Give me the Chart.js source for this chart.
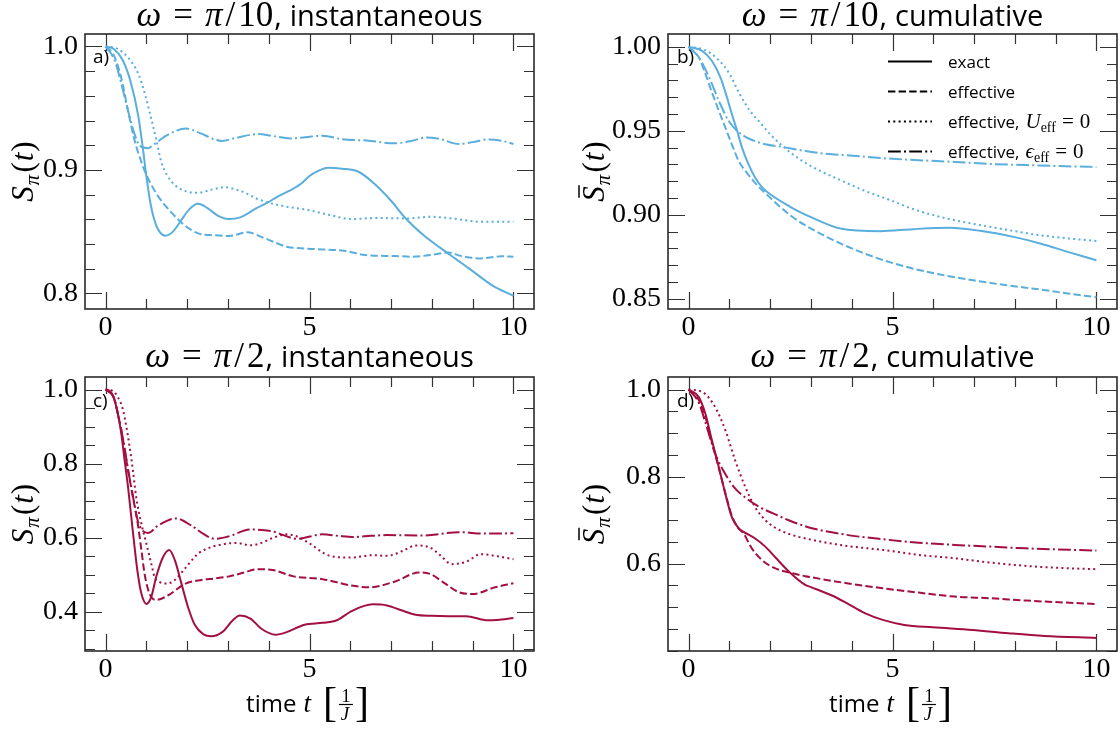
<!DOCTYPE html>
<html><head><meta charset="utf-8">
<script src="https://cdn.jsdelivr.net/npm/chart.js@4/dist/chart.umd.min.js"></script>
<style>
html,body{margin:0;padding:0;background:#fff;}
#wrap{position:relative;width:1120px;height:732px;overflow:hidden;}
canvas{position:absolute;}
</style></head><body>
<div id="wrap">
<canvas id="ca" width="560" height="345" style="left:0;top:0"></canvas>
<canvas id="cb" width="560" height="345" style="left:560px;top:0"></canvas>
<canvas id="cc" width="560" height="407" style="left:0;top:325px"></canvas>
<canvas id="cd" width="560" height="407" style="left:560px;top:325px"></canvas>
</div>
<script>
// ---------- tick values / labels ----------
const xTicks = [0, 5, 10];
const xTickLabels = ['0', '5', '10'];
const aYTicks = [0.8, 0.9, 1.0];
const aYTickLabels = ['0.8', '0.9', '1.0'];
const bYTicks = [0.85, 0.90, 0.95, 1.00];
const bYTickLabels = ['0.85', '0.90', '0.95', '1.00'];
const cYTicks = [0.4, 0.6, 0.8, 1.0];
const cYTickLabels = ['0.4', '0.6', '0.8', '1.0'];
const dYTicks = [0.6, 0.8, 1.0];
const dYTickLabels = ['0.6', '0.8', '1.0'];

// ---------- legend labels ----------
const seriesNames = ['exact', 'effective', 'effective, U_eff = 0', 'effective, ϵ_eff = 0'];

// ---------- panel a: omega = pi/10, instantaneous ----------
const aT_exact = [0,0.2,0.4,0.6,0.8,0.9,1.0,1.1,1.2,1.3,1.47,1.65,1.85,2.05,2.27,2.5,2.75,3.03,3.3,3.7,4.0,4.2,4.5,4.8,5.0,5.2,5.45,5.8,6.2,6.55,7.0,7.35,7.8,8.2,8.6,9.0,9.5,10];
const aY_exact = [1.0,0.998,0.99,0.973,0.944,0.921,0.895,0.873,0.859,0.851,0.8467,0.850,0.859,0.868,0.8725,0.869,0.863,0.8602,0.8615,0.869,0.874,0.878,0.883,0.889,0.895,0.899,0.9018,0.901,0.8985,0.890,0.875,0.861,0.847,0.837,0.8275,0.818,0.806,0.798];
const aT_eff = [0,0.2,0.38,0.55,0.71,0.84,0.96,1.12,1.28,1.6,1.94,2.27,2.68,3.03,3.47,3.91,4.44,4.9,5.32,5.85,6.37,7.08,7.52,7.96,8.4,8.75,9.2,9.72,10];
const aY_eff = [1.0,0.993,0.975,0.948,0.924,0.910,0.899,0.888,0.879,0.866,0.855,0.8486,0.847,0.8464,0.8494,0.8445,0.8378,0.8362,0.8356,0.8345,0.831,0.8302,0.8297,0.831,0.833,0.830,0.8283,0.830,0.8297];
const aT_u0 = [0,0.3,0.55,0.8,0.96,1.1,1.24,1.36,1.52,1.69,1.94,2.27,2.6,2.92,3.2,3.45,3.73,4.1,4.44,4.97,5.5,6.02,6.64,7.43,7.96,8.49,9.2,10];
const aY_u0 = [1.0,0.998,0.991,0.978,0.962,0.944,0.925,0.907,0.895,0.888,0.883,0.8815,0.884,0.886,0.884,0.881,0.8764,0.8725,0.8702,0.8675,0.8634,0.8602,0.861,0.8607,0.862,0.8607,0.858,0.858];
const aT_e0 = [0,0.22,0.385,0.55,0.71,0.84,1.04,1.2,1.5,1.97,2.3,2.85,3.2,3.73,4.1,4.53,4.9,5.32,5.8,6.4,7.08,7.5,7.87,8.2,8.66,9.0,9.37,9.7,10];
const aY_e0 = [1.0,0.989,0.970,0.948,0.929,0.9195,0.9176,0.921,0.928,0.9335,0.930,0.9235,0.926,0.929,0.9275,0.9255,0.9265,0.9277,0.9248,0.9238,0.9215,0.9235,0.9263,0.925,0.921,0.9225,0.9247,0.9237,0.921];

// ---------- panel b: omega = pi/10, cumulative ----------
const bT_exact = [0,0.33,0.57,0.78,0.94,1.06,1.19,1.31,1.47,1.63,1.8,1.92,2.49,3.07,3.72,4.7,5.5,6.41,7.15,7.97,8.62,9.3,10];
const bY_exact = [1.0,0.9976,0.9917,0.9818,0.970,0.960,0.950,0.940,0.930,0.9222,0.9165,0.9137,0.9048,0.8979,0.8919,0.8903,0.8915,0.8923,0.8905,0.8869,0.883,0.878,0.873];
const bT_eff = [0,0.25,0.41,0.57,0.74,0.9,1.06,1.23,1.43,1.63,1.9,2.49,3.07,3.72,4.54,5.35,6.17,6.98,7.8,8.62,9.3,10];
const bY_eff = [1.0,0.9937,0.984,0.973,0.962,0.952,0.942,0.932,0.925,0.919,0.9125,0.8998,0.8909,0.883,0.875,0.869,0.8645,0.8611,0.8581,0.8556,0.8532,0.851];
const bT_u0 = [0,0.4,0.7,1.0,1.25,1.5,1.75,2.0,2.3,2.74,3.2,3.72,4.3,4.94,5.5,6.17,6.8,7.39,8.0,8.62,9.3,10];
const bY_u0 = [1.0,0.998,0.993,0.984,0.972,0.962,0.955,0.948,0.941,0.9328,0.9265,0.9207,0.9145,0.9088,0.9035,0.8988,0.8955,0.8929,0.8903,0.8879,0.886,0.8845];
const bT_e0 = [0,0.25,0.5,0.74,0.98,1.19,1.43,1.88,2.29,2.86,3.5,3.88,4.9,5.64,6.52,7.4,8.28,9.1,10];
const bY_e0 = [1.0,0.9937,0.982,0.968,0.956,0.950,0.946,0.942,0.9405,0.938,0.936,0.9355,0.9335,0.9325,0.9315,0.9303,0.9296,0.929,0.9285];

// ---------- panel c: omega = pi/2, instantaneous ----------
const cT_exact = [0,0.1,0.22,0.30,0.385,0.467,0.55,0.63,0.71,0.79,0.877,1.0,1.12,1.24,1.41,1.56,1.70,1.86,2.02,2.19,2.4,2.59,2.86,3.12,3.29,3.56,3.82,4.17,4.44,4.88,5.32,5.67,6.02,6.55,6.9,7.25,7.6,8.0,8.4,8.84,9.37,9.6,10];
const cY_exact = [1.0,0.997,0.971,0.935,0.881,0.809,0.737,0.656,0.575,0.503,0.449,0.421,0.440,0.494,0.548,0.567,0.539,0.476,0.413,0.364,0.339,0.334,0.345,0.377,0.390,0.381,0.354,0.338,0.345,0.365,0.370,0.377,0.401,0.420,0.417,0.404,0.392,0.389,0.388,0.388,0.377,0.378,0.383];
const cT_eff = [0,0.2,0.3,0.43,0.55,0.67,0.79,0.88,0.96,1.08,1.24,1.53,1.94,2.35,2.68,3.03,3.4,3.73,4.09,4.61,5.32,6.02,6.47,7.08,7.69,7.96,8.3,8.66,9.0,9.55,10];
const cY_eff = [1.0,0.979,0.935,0.863,0.782,0.71,0.637,0.565,0.50,0.448,0.432,0.444,0.475,0.486,0.490,0.4955,0.506,0.515,0.513,0.4955,0.488,0.471,0.466,0.481,0.506,0.502,0.478,0.453,0.448,0.466,0.477];
const cT_u0 = [0,0.15,0.3,0.43,0.51,0.59,0.67,0.75,0.877,1.0,1.12,1.2,1.33,1.49,1.69,1.94,2.27,2.6,2.92,3.2,3.56,3.8,4.09,4.44,4.7,4.97,5.5,6.02,6.55,6.9,7.3,7.6,7.96,8.2,8.49,8.84,9.2,9.55,10];
const cY_u0 = [1.0,0.998,0.980,0.944,0.899,0.845,0.782,0.710,0.638,0.584,0.53,0.494,0.48,0.476,0.485,0.516,0.557,0.575,0.583,0.586,0.5795,0.585,0.599,0.609,0.603,0.5866,0.551,0.5464,0.5527,0.551,0.565,0.579,0.5732,0.553,0.5286,0.535,0.5554,0.551,0.542];
const cT_e0 = [0,0.2,0.3,0.43,0.55,0.67,0.79,0.9,1.04,1.29,1.72,2.1,2.4,2.68,3.0,3.56,4.09,4.7,5.32,5.7,6.1,6.5,6.9,7.78,8.66,9.3,10];
const cY_e0 = [1.0,0.979,0.935,0.865,0.785,0.712,0.645,0.62,0.6127,0.633,0.652,0.633,0.61,0.597,0.603,0.6223,0.617,0.597,0.609,0.605,0.602,0.605,0.607,0.606,0.615,0.611,0.612];

// ---------- panel d: omega = pi/2, cumulative ----------
const dT_exact = [0,0.25,0.41,0.57,0.74,0.9,1.06,1.23,1.35,1.64,1.88,2.13,2.49,2.86,3.0,3.53,3.88,4.32,4.76,5.29,5.99,6.96,7.84,8.72,10];
const dY_exact = [1.0,0.983,0.945,0.884,0.822,0.761,0.707,0.681,0.673,0.657,0.639,0.614,0.579,0.551,0.546,0.526,0.509,0.486,0.4705,0.459,0.4536,0.4475,0.44,0.4337,0.429];
const dT_eff = [0,0.25,0.41,0.57,0.74,0.9,1.06,1.2,1.35,1.55,1.8,2.13,2.49,2.86,3.0,3.88,4.76,5.64,6.52,7.4,8.28,10];
const dY_eff = [1.0,0.976,0.937,0.880,0.820,0.762,0.71,0.684,0.669,0.635,0.608,0.589,0.579,0.571,0.5686,0.5548,0.5433,0.5333,0.5241,0.5203,0.515,0.507];
const dT_u0 = [0,0.33,0.65,0.9,1.14,1.39,1.63,1.88,2.13,2.53,3.0,3.88,4.76,5.64,6.52,7.4,8.28,9.1,10];
const dY_u0 = [1.0,0.995,0.960,0.907,0.838,0.776,0.730,0.700,0.682,0.666,0.655,0.6406,0.6314,0.62,0.6123,0.6023,0.5946,0.590,0.587];
const dT_e0 = [0,0.25,0.41,0.65,0.9,1.14,1.39,1.72,2.13,2.5,3.0,3.88,4.76,5.64,6.52,7.4,8.28,10];
const dY_e0 = [1.0,0.97,0.925,0.853,0.806,0.773,0.752,0.731,0.713,0.698,0.682,0.666,0.656,0.648,0.643,0.639,0.635,0.630];

// ---------- styles ----------
const BLUE = '#5aaedd';
const RED = '#a3103f';
const DASHES = [[], [7.4, 3.2], [2, 3.3], [12.8, 3.2, 2, 3.2]];
const SERIF = '"Liberation Serif","DejaVu Serif",serif';
const SANS = '"Open Sans","DejaVu Sans",sans-serif';
const INK = '#000';
const FRAME = '#2a2a2a';

function segsWidth(ctx, segs) {
  let w = 0;
  for (const s of segs) { ctx.font = s.f; w += (s.gap || 0) + ctx.measureText(s.t).width; }
  return w;
}
function drawSegs(ctx, segs, x0, y0) {
  let x = x0; const pos = [];
  for (const s of segs) {
    x += (s.gap || 0);
    ctx.font = s.f;
    const w = ctx.measureText(s.t).width;
    ctx.fillText(s.t, x, y0 + (s.dy || 0));
    pos.push([x, w]);
    x += w;
  }
  return pos;
}

function titleSegs(den, kind) {
  const mi = `italic 35px ${SERIF}`, mr = `35px ${SERIF}`, sf = `29px ${SANS}`;
  return [
    {t: 'ω', f: mi},
    {t: '=', f: mr, gap: 12},
    {t: 'π', f: mi, gap: 12},
    {t: '/', f: mr, gap: 3},
    {t: den, f: mr, gap: 3},
    {t: ',', f: sf, gap: 1},
    {t: kind, f: sf, gap: 8}
  ];
}

function makeDeco(cfg) {
  return {
    id: 'deco_' + cfg.id,
    beforeDatasetsDraw(chart) {
      const ctx = chart.ctx, a = chart.chartArea;
      const xs = chart.scales.x, ys = chart.scales.y;
      ctx.save();
      ctx.strokeStyle = '#333'; ctx.lineWidth = 1.2;
      for (let k = 0; k <= 10; k++) {
        const major = xTicks.includes(k);
        const L = major ? 17 : 10;
        const p = Math.round(xs.getPixelForValue(k)) + 0.5;
        ctx.beginPath();
        ctx.moveTo(p, a.bottom); ctx.lineTo(p, a.bottom - L);
        ctx.moveTo(p, a.top); ctx.lineTo(p, a.top + L);
        ctx.stroke();
      }
      const st = cfg.yMinorStep;
      const k0 = Math.ceil(cfg.yMin / st - 1e-9), k1 = Math.floor(cfg.yMax / st + 1e-9);
      for (let k = k0; k <= k1; k++) {
        const v = k * st;
        const major = cfg.yTicks.some(m => Math.abs(m - v) < st * 0.01);
        const L = major ? 17 : 10;
        const p = Math.round(ys.getPixelForValue(v)) + 0.5;
        ctx.beginPath();
        ctx.moveTo(a.left, p); ctx.lineTo(a.left + L, p);
        ctx.moveTo(a.right, p); ctx.lineTo(a.right - L, p);
        ctx.stroke();
      }
      ctx.restore();
    },
    afterDatasetsDraw(chart) {
      const ctx = chart.ctx, a = chart.chartArea;
      ctx.save();
      ctx.strokeStyle = FRAME; ctx.lineWidth = 1.6;
      ctx.strokeRect(a.left, a.top, a.right - a.left, a.bottom - a.top);
      ctx.fillStyle = INK;
      ctx.font = `19px ${SANS}`; ctx.textAlign = 'left'; ctx.textBaseline = 'alphabetic';
      ctx.fillText(cfg.letter, cfg.letterX, cfg.letterY);
      if (cfg.legend) {
        const lx0 = 328, lx1 = 372, tx = 388;
        for (let i = 0; i < seriesNames.length; i++) {
          const y = 61.5 + 30 * i;
          ctx.save();
          ctx.strokeStyle = '#000'; ctx.lineWidth = 2; ctx.setLineDash(DASHES[i]);
          ctx.beginPath(); ctx.moveTo(lx0, y); ctx.lineTo(lx1, y); ctx.stroke();
          ctx.restore();
          const name = seriesNames[i];
          const parts = name.split(', ');
          if (parts.length === 1) {
            ctx.font = `17px ${SANS}`;
            ctx.fillText(name, tx, y + 6);
          } else {
            const m = parts[1].match(/^(.)_(\w+) = (\d)$/);
            drawSegs(ctx, [
              {t: parts[0] + ',', f: `17px ${SANS}`},
              {t: m[1], f: `italic 21px ${SERIF}`, gap: 6},
              {t: m[2], f: `14px ${SERIF}`, gap: 0, dy: 4},
              {t: '=', f: `21px ${SERIF}`, gap: 6},
              {t: m[3], f: `21px ${SERIF}`, gap: 6}
            ], tx, y + 6);
          }
        }
      }
      ctx.restore();
    },
    afterDraw(chart) {
      const ctx = chart.ctx, a = chart.chartArea;
      const cx = (a.left + a.right) / 2, cy = (a.top + a.bottom) / 2;
      ctx.save();
      ctx.fillStyle = INK; ctx.textAlign = 'left'; ctx.textBaseline = 'alphabetic';
      const ts = titleSegs(cfg.den, cfg.kind);
      const tw = segsWidth(ctx, ts);
      drawSegs(ctx, ts, cx - tw / 2, cfg.titleY);
      ctx.save();
      ctx.translate(cfg.ylabX, cy);
      ctx.rotate(-Math.PI / 2);
      const ys = [
        {t: 'S', f: `italic 31px ${SERIF}`},
        {t: 'π', f: `italic 21px ${SERIF}`, gap: 1, dy: 6},
        {t: '(', f: `31px ${SERIF}`, gap: 2},
        {t: 't', f: `italic 31px ${SERIF}`, gap: 1},
        {t: ')', f: `31px ${SERIF}`, gap: 1}
      ];
      const yw = segsWidth(ctx, ys);
      const pos = drawSegs(ctx, ys, -yw / 2, 0);
      if (cfg.bar) {
        ctx.strokeStyle = INK; ctx.lineWidth = 1.5;
        ctx.beginPath();
        ctx.moveTo(pos[0][0] + 4, -24.5); ctx.lineTo(pos[0][0] + pos[0][1] + 1, -24.5);
        ctx.stroke();
      }
      ctx.restore();
      if (cfg.xlabel) {
        const base = cfg.xlabY;
        const bf = `42px ${SERIF}`;
        ctx.font = `24px ${SANS}`; const wTime = ctx.measureText('time').width;
        ctx.font = `italic 27px ${SERIF}`; const wT = ctx.measureText('t').width;
        ctx.font = bf; const wB = ctx.measureText('[').width;
        const wF = 14;
        const total = wTime + 7 + wT + 12 + wB + 2 + wF + 2 + wB;
        let x = cx - 2 - total / 2;
        ctx.font = `24px ${SANS}`; ctx.fillText('time', x, base); x += wTime + 7;
        ctx.font = `italic 27px ${SERIF}`; ctx.fillText('t', x, base); x += wT + 12;
        ctx.font = bf; ctx.fillText('[', x, base + 4); x += wB + 2;
        const fx = x + wF / 2;
        ctx.textAlign = 'center';
        ctx.font = `18px ${SERIF}`; ctx.fillText('1', fx, base - 10);
        ctx.font = `italic 19px ${SERIF}`; ctx.fillText('J', fx - 1, base + 8);
        ctx.strokeStyle = INK; ctx.lineWidth = 1.2;
        ctx.beginPath(); ctx.moveTo(fx - 7, base - 7.5); ctx.lineTo(fx + 7, base - 7.5); ctx.stroke();
        ctx.textAlign = 'left';
        x += wF + 2;
        ctx.font = bf; ctx.fillText(']', x, base + 4);
      }
      ctx.restore();
    }
  };
}

function makeChart(cfg) {
  const series = [
    {t: cfg.T[0], y: cfg.Y[0]}, {t: cfg.T[1], y: cfg.Y[1]},
    {t: cfg.T[2], y: cfg.Y[2]}, {t: cfg.T[3], y: cfg.Y[3]}
  ];
  const datasets = series.map((s, i) => ({
    label: seriesNames[i],
    data: s.t.map((t, j) => ({x: t, y: s.y[j]})),
    borderColor: cfg.color,
    borderWidth: 2,
    borderDash: DASHES[i],
    borderCapStyle: 'butt',
    pointRadius: 0,
    cubicInterpolationMode: 'monotone',
    fill: false
  }));
  new Chart(document.getElementById(cfg.id), {
    type: 'line',
    data: {datasets},
    options: {
      responsive: false,
      animation: false,
      events: [],
      devicePixelRatio: 1,
      layout: {padding: {top: cfg.padTop, right: cfg.padRight, left: 0, bottom: 0}},
      plugins: {legend: {display: false}, tooltip: {enabled: false}, title: {display: false}},
      scales: {
        x: {
          type: 'linear', min: -0.505, max: 10.505,
          grid: {display: false, drawTicks: false}, border: {display: false},
          afterBuildTicks: s => { s.ticks = xTicks.map(v => ({value: v})); },
          afterFit: s => { s.height = cfg.xH; },
          ticks: {autoSkip: false, maxRotation: 0, padding: 2, color: INK,
                  font: {family: SERIF, size: 28},
                  callback: (v, i) => xTickLabels[i]}
        },
        y: {
          type: 'linear', min: cfg.yMin, max: cfg.yMax,
          grid: {display: false, drawTicks: false}, border: {display: false},
          afterBuildTicks: s => { s.ticks = cfg.yTicks.map(v => ({value: v})); },
          afterFit: s => { s.width = cfg.yW; },
          ticks: {autoSkip: false, padding: 7, color: INK,
                  font: {family: SERIF, size: 28},
                  callback: (v, i) => cfg.yTickLabels[i]}
        }
      }
    },
    plugins: [makeDeco(cfg)]
  });
}

makeChart({id: 'ca', color: BLUE, T: [aT_exact, aT_eff, aT_u0, aT_e0], Y: [aY_exact, aY_eff, aY_u0, aY_e0],
  yMin: 0.7873, yMax: 1.0101, yTicks: aYTicks, yTickLabels: aYTickLabels, yMinorStep: 0.02,
  yW: 85, padTop: 34, padRight: 26, xH: 36, den: '10', kind: 'instantaneous', titleY: 26,
  ylabX: 33, bar: false, letter: 'a)', letterX: 93, letterY: 63, legend: false, xlabel: false});
makeChart({id: 'cb', color: BLUE, T: [bT_exact, bT_eff, bT_u0, bT_e0], Y: [bY_exact, bY_eff, bY_u0, bY_e0],
  yMin: 0.844, yMax: 1.0076, yTicks: bYTicks, yTickLabels: bYTickLabels, yMinorStep: 0.01,
  yW: 108, padTop: 34, padRight: 3, xH: 36, den: '10', kind: 'cumulative', titleY: 26,
  ylabX: 43.5, bar: true, letter: 'b)', letterX: 117, letterY: 63, legend: true, xlabel: false});
makeChart({id: 'cc', color: RED, T: [cT_exact, cT_eff, cT_u0, cT_e0], Y: [cY_exact, cY_eff, cY_u0, cY_e0],
  yMin: 0.294, yMax: 1.034, yTicks: cYTicks, yTickLabels: cYTickLabels, yMinorStep: 0.05,
  yW: 85, padTop: 52, padRight: 26, xH: 81, den: '2', kind: 'instantaneous', titleY: 42,
  ylabX: 33, bar: false, letter: 'c)', letterX: 93, letterY: 82, legend: false, xlabel: true, xlabY: 387});
makeChart({id: 'cd', color: RED, T: [dT_exact, dT_eff, dT_u0, dT_e0], Y: [dY_exact, dY_eff, dY_u0, dY_e0],
  yMin: 0.399, yMax: 1.029, yTicks: dYTicks, yTickLabels: dYTickLabels, yMinorStep: 0.05,
  yW: 108, padTop: 52, padRight: 3, xH: 81, den: '2', kind: 'cumulative', titleY: 42,
  ylabX: 43.5, bar: true, letter: 'd)', letterX: 117, letterY: 82, legend: false, xlabel: true, xlabY: 387});
</script>
</body></html>
